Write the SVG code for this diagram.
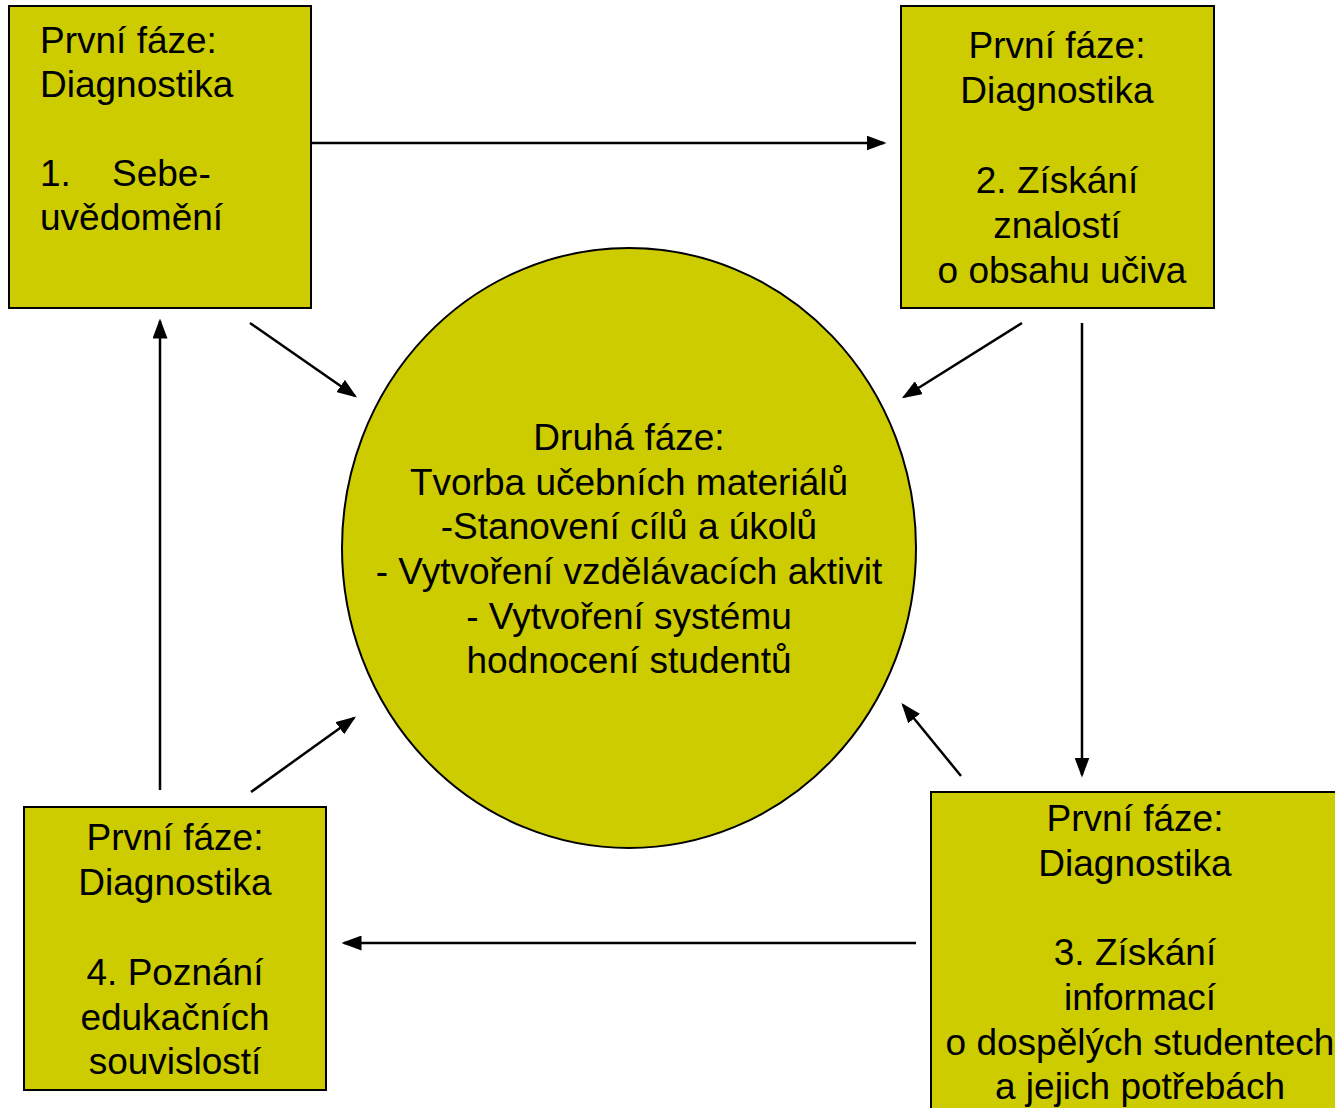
<svg xmlns="http://www.w3.org/2000/svg" width="1335" height="1108" viewBox="0 0 1335 1108">
<style>
.n{fill:#CCCC00;stroke:#000;stroke-width:2}
.t{font-family:"Liberation Sans",Arial,sans-serif;font-size:37px;fill:#000}
.c{text-anchor:middle}
.e{stroke:#000;stroke-width:2.5;fill:none;marker-end:url(#ah)}
</style>
<defs>
<marker id="ah" markerWidth="8" markerHeight="6" refX="7" refY="3" orient="auto" markerUnits="strokeWidth">
<path d="M0,0 L8,3 L0,6 Z" fill="#000"/>
</marker>
</defs>
<rect width="1335" height="1108" fill="#fff"/>
<g id="connectors">
<line class="e" x1="312" y1="143" x2="884" y2="143"/>
<line class="e" x1="250" y1="323" x2="355" y2="396"/>
<line class="e" x1="1022" y1="323" x2="904" y2="397"/>
<line class="e" x1="1082" y1="323" x2="1082" y2="775"/>
<line class="e" x1="961" y1="776" x2="903" y2="705"/>
<line class="e" x1="916" y1="943" x2="344" y2="943"/>
<line class="e" x1="251" y1="792" x2="354" y2="718"/>
<line class="e" x1="160" y1="790" x2="160" y2="321"/>
</g>
<g id="center">
<ellipse class="n" cx="629" cy="548" rx="287" ry="300"/>
<text class="t c" x="629"><tspan x="629" y="450">Druhá fáze:</tspan><tspan x="629" y="495">Tvorba učebních materiálů</tspan><tspan x="629" y="539">-Stanovení cílů a úkolů</tspan><tspan x="629" y="584">- Vytvoření vzdělávacích aktivit</tspan><tspan x="629" y="629">- Vytvoření systému</tspan><tspan x="629" y="673">hodnocení studentů</tspan></text>
</g>
<g id="box1">
<rect class="n" x="9" y="6" width="302" height="302"/>
<text class="t"><tspan x="40" y="53">První fáze:</tspan><tspan x="40" y="97">Diagnostika</tspan><tspan x="40" y="186">1.</tspan><tspan x="112" y="186">Sebe-</tspan><tspan x="40" y="230">uvědomění</tspan></text>
</g>
<g id="box2">
<rect class="n" x="901" y="6" width="313" height="302"/>
<text class="t c"><tspan x="1057" y="58">První fáze:</tspan><tspan x="1057" y="103">Diagnostika</tspan><tspan x="1057" y="193">2. Získání</tspan><tspan x="1057" y="238">znalostí</tspan><tspan x="1062" y="283">o obsahu učiva</tspan></text>
</g>
<g id="box3">
<rect class="n" x="931" y="792" width="420" height="330"/>
<text class="t c"><tspan x="1135" y="831">První fáze:</tspan><tspan x="1135" y="876">Diagnostika</tspan><tspan x="1135" y="965">3. Získání</tspan><tspan x="1140" y="1010">informací</tspan><tspan x="1140" y="1055">o dospělých studentech</tspan><tspan x="1140" y="1099">a jejich potřebách</tspan></text>
</g>
<g id="box4">
<rect class="n" x="24" y="807" width="302" height="283"/>
<text class="t c"><tspan x="175" y="850">První fáze:</tspan><tspan x="175" y="895">Diagnostika</tspan><tspan x="175" y="985">4. Poznání</tspan><tspan x="175" y="1030">edukačních</tspan><tspan x="175" y="1074">souvislostí</tspan></text>
</g>
</svg>
